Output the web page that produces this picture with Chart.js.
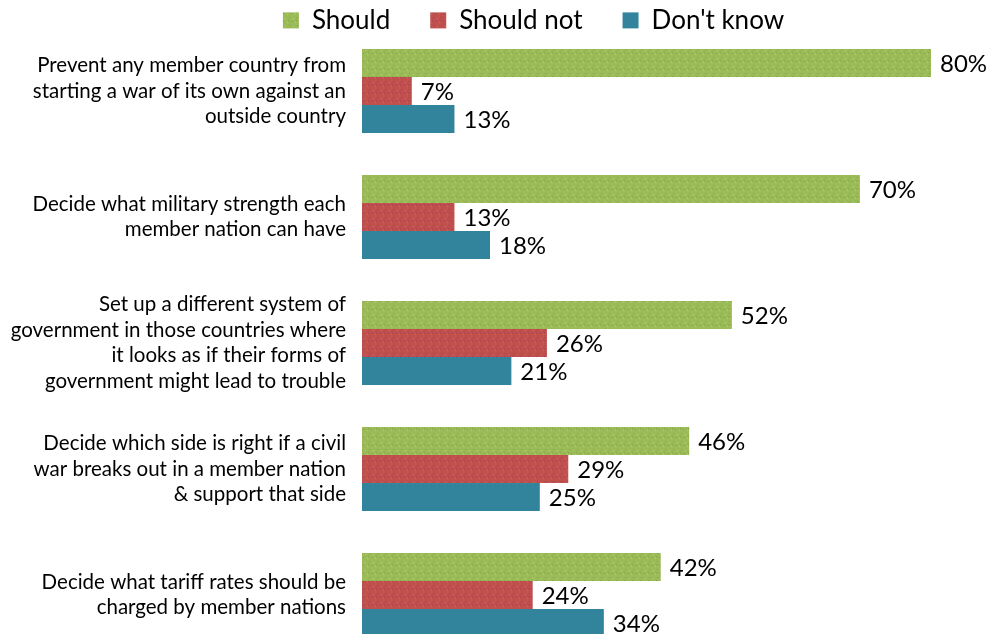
<!DOCTYPE html>
<html>
<head>
<meta charset="utf-8">
<script src="https://cdn.jsdelivr.net/npm/chart.js@4/dist/chart.umd.min.js"></script>
<style>
html,body{margin:0;padding:0;background:#fff;overflow:hidden;}
#wrap{position:relative;width:993px;height:658px;}
</style>
</head>
<body>
<div id="wrap"><canvas id="c"></canvas></div>
<script>
const categories = [
  ["Prevent any member country from", "starting a war of its own against an", "outside country"],
  ["Decide what military strength each", "member nation can have"],
  ["Set up a different system of", "government in those countries where", "it looks as if their forms of", "government might lead to trouble"],
  ["Decide which side is right if a civil", "war breaks out in a member nation", "& support that side"],
  ["Decide what tariff rates should be", "charged by member nations"]
];
const seriesNames = ["Should", "Should not", "Don't know"];
const shouldVals = [80, 70, 52, 46, 42];
const shouldNotVals = [7, 13, 26, 29, 24];
const dontKnowVals = [13, 18, 21, 25, 34];

const FONT = "Lato, 'Liberation Sans', sans-serif";
const LEGEND_PAD = 40;

function makePattern(base, dots) {
  const c = document.createElement('canvas');
  c.width = 8; c.height = 8;
  const x = c.getContext('2d');
  x.fillStyle = base; x.fillRect(0, 0, 8, 8);
  const pts = [[1,1],[5,2],[3,5],[7,6],[0,4]];
  pts.forEach((p, i) => { x.fillStyle = dots[i % dots.length]; x.fillRect(p[0], p[1], 1, 1); });
  return x.createPattern(c, 'repeat');
}
const greenFill = makePattern('#9BBB59', ['#7FA23F', '#B4CF7A']);
const redFill = makePattern('#C0504D', ['#A63A5C', '#CF6A60']);
const blueFill = '#31849B';

const dataLabels = {
  id: 'dataLabels',
  afterDatasetsDraw(chart) {
    const ctx = chart.ctx;
    ctx.save();
    ctx.font = "24px " + FONT;
    ctx.fillStyle = '#000';
    ctx.textAlign = 'left';
    ctx.textBaseline = 'middle';
    chart.data.datasets.forEach((ds, di) => {
      const meta = chart.getDatasetMeta(di);
      meta.data.forEach((el, i) => {
        ctx.fillText(ds.data[i] + '%', el.x + 9, el.y + 1);
      });
    });
    ctx.restore();
  }
};

const legendFix = {
  id: 'legendFix',
  beforeLayout(chart) {
    const lg = chart.legend;
    if (lg && !lg._patched) {
      const orig = lg.fit.bind(lg);
      lg.fit = function () { orig(); this.height = 28; };
      lg._patched = true;
    }
  },
  afterLayout(chart) {
    const lg = chart.legend;
    if (lg) {
      lg.left += 68; lg.right += 68;
      lg.top = 23 - LEGEND_PAD - 15.6;
      lg.bottom = 30;
    }
  }
};

new Chart(document.getElementById('c'), {
  type: 'bar',
  data: {
    labels: categories,
    datasets: [
      { label: seriesNames[0], data: shouldVals, backgroundColor: greenFill },
      { label: seriesNames[1], data: shouldNotVals, backgroundColor: redFill },
      { label: seriesNames[2], data: dontKnowVals, backgroundColor: blueFill }
    ]
  },
  plugins: [dataLabels, legendFix],
  options: {
    indexAxis: 'y',
    responsive: true,
    maintainAspectRatio: false,
    animation: false,
    categoryPercentage: 0.6667,
    barPercentage: 1,
    layout: { padding: { left: 0, right: 62, top: 0, bottom: 0 } },
    plugins: {
      legend: {
        position: 'top',
        labels: {
          font: { family: FONT, size: 26 },
          color: '#000',
          boxWidth: 16,
          boxHeight: 16,
          padding: LEGEND_PAD
        }
      },
      tooltip: { enabled: false }
    },
    scales: {
      x: {
        display: false,
        min: 0,
        max: 80
      },
      y: {
        grid: { display: false, drawTicks: false },
        border: { display: false },
        afterFit(scale) { scale.width = 362; scale.paddingTop = 0; scale.paddingBottom = 0; },
        ticks: {
          padding: 16,
          color: '#000',
          font: { family: FONT, size: 20.5, lineHeight: 1.25 }
        }
      }
    }
  }
});
</script>
</body>
</html>
